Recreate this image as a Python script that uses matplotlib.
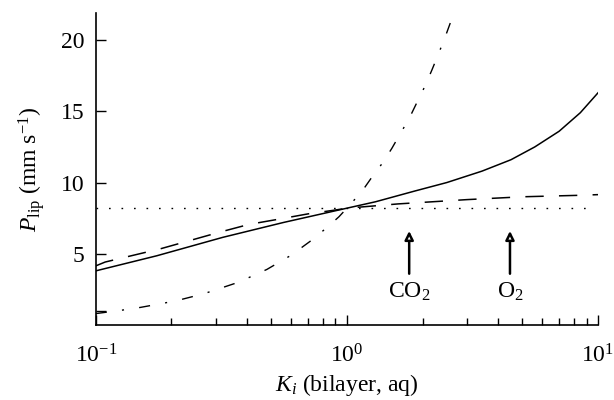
import numpy as np
import matplotlib
matplotlib.use("Agg")
import matplotlib.pyplot as plt

plt.rcParams["font.family"] = ["Liberation Serif", "DejaVu Serif"]
plt.rcParams["mathtext.fontset"] = "custom"
plt.rcParams["mathtext.rm"] = "Liberation Serif"
plt.rcParams["mathtext.it"] = "Liberation Serif:italic"
plt.rcParams["font.size"] = 17

# values
k_solid = [0.1, 0.175, 0.32, 0.56, 1.0, 1.3, 1.86, 2.5, 3.45, 4.5, 5.6, 7.0, 8.5, 10.0]
p_solid = [3.8, 4.86, 6.15, 7.2, 8.2, 8.65, 9.4, 10.0, 10.8, 11.6, 12.5, 13.6, 14.9, 16.3]

k_dash = [0.1, 0.109, 0.14, 0.181, 0.236, 0.309, 0.407, 0.536, 0.70, 0.90, 1.0,
          1.6, 3.0, 5.0, 8.3, 10.0]
p_dash = [4.15, 4.42, 4.88, 5.35, 5.92, 6.5, 7.06, 7.43, 7.8, 8.07, 8.2,
          8.5, 8.8, 9.0, 9.1, 9.15]

k_dashdot = [0.1, 0.128, 0.15, 0.19, 0.22, 0.27, 0.37, 0.48, 0.6, 0.73, 0.84, 0.93, 1.0,
             1.15, 1.26, 1.39, 1.51, 1.64, 1.77, 1.91, 2.05, 2.18, 2.3, 2.46,
             2.63, 2.75]
p_dashdot = [0.8, 1.05, 1.23, 1.56, 1.8, 2.2, 3.0, 3.9, 4.9, 6.0, 6.9, 7.6, 8.2,
             9.4, 10.4, 11.4, 12.4, 13.5, 14.5, 15.7, 16.8, 17.9, 18.9, 20.2,
             21.6, 22.5]

p_ref = 8.2

gases = ["CO$_2$", "O$_2$"]
k_gases = [1.77, 4.46]

yticks = [1, 5, 10, 15, 20]
ytick_labels = ["", "5", "10", "15", "20"]

fig = plt.figure(figsize=(6.14, 4.0), dpi=100)
ax = fig.add_axes([0.156, 0.1875, 0.818, 0.78])

ax.plot(k_solid, p_solid, color="black", lw=1.1)
ax.plot(k_dash, p_dash, color="black", lw=1.1, dashes=(12, 10))
ax.plot(k_dashdot, p_dashdot, color="black", lw=1.0, dashes=(8, 11, 1.5, 11))
ax.axhline(p_ref, color="black", lw=1.0, dashes=(1.2, 7.8), xmin=0, xmax=0.985)

for name, kg in zip(gases, k_gases):
    ax.annotate("", xy=(kg, 6.6), xytext=(kg, 3.6),
                arrowprops=dict(arrowstyle="-|>,head_length=0.3,head_width=0.15",
                                lw=1.8, fc="white", ec="black", shrinkA=0, shrinkB=0))
    ax.text(kg, 2.35, name, ha="center", va="center", fontsize=17)

ax.set_xscale("log")
ax.set_xlim(0.1, 10)
ax.set_ylim(0, 21.9)
ax.set_yticks(yticks)
ax.set_yticklabels(ytick_labels)

ax.spines["top"].set_visible(False)
ax.spines["right"].set_visible(False)
ax.spines["left"].set_linewidth(1.2)
ax.spines["bottom"].set_linewidth(1.2)
ax.tick_params(which="both", direction="in")
ax.tick_params(axis="y", length=7, width=1.0, pad=8)
ax.tick_params(axis="x", which="major", length=7, width=1.0, pad=14)
ax.tick_params(axis="x", which="minor", length=5, width=1.0)

ax.set_xlabel("$K_i$ (bilayer, aq)", labelpad=3)
ax.set_ylabel("$P_{\\rm lip}$ (mm s$^{-1}$)", labelpad=10)

fig.savefig("out.png", dpi=100)
